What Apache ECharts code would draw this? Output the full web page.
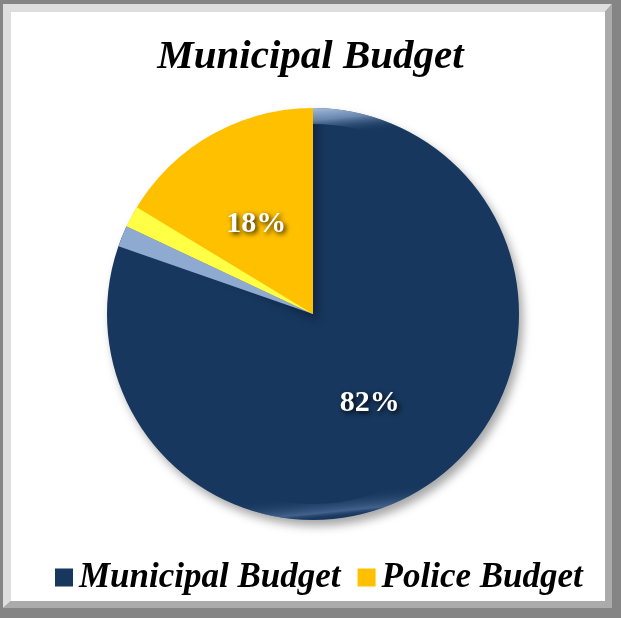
<!DOCTYPE html>
<html><head><meta charset="utf-8">
<script src="https://cdn.jsdelivr.net/npm/echarts@6/dist/echarts.min.js"></script>
<style>html,body{margin:0;padding:0;background:#fff}#c{width:621px;height:618px}</style>
</head><body><div id="c"></div>
<script>
const titleText = 'Municipal Budget';
const categories = ['Municipal Budget', 'Police Budget'];
const values = [82, 18];
const colors = ['#17375E', '#FFC000'];
const bevelColors = ['#8FAAD0', '#FFFF45'];

const chart = echarts.init(document.getElementById('c'));
const total = values.reduce((a, b) => a + b, 0);
const bevelDeg = 6;
const firstDeg = values[0] / total * 360;
const clear = 'rgba(0,0,0,0)';
const bevelData = [
  { value: firstDeg - bevelDeg, itemStyle: { color: clear } },
  { value: bevelDeg, itemStyle: { color: bevelColors[0] } },
  { value: bevelDeg, itemStyle: { color: bevelColors[1] } },
  { value: 360 - firstDeg - bevelDeg, itemStyle: { color: clear } }
];
const rimData = categories.map((n, i) => ({
  name: n, value: values[i],
  itemStyle: {
    color: i === 0 ? new echarts.graphic.LinearGradient(0.4, 0, 0.5, 1, [
      { offset: 0, color: 'rgba(200,220,245,0.95)' },
      { offset: 0.04, color: 'rgba(140,168,208,0.7)' },
      { offset: 0.08, color: 'rgba(23,55,94,0)' },
      { offset: 0.94, color: 'rgba(23,55,94,0)' },
      { offset: 0.985, color: 'rgba(110,140,185,0.5)' },
      { offset: 1, color: 'rgba(23,55,94,0)' }
    ]) : clear
  }
}));
const serif = '"Liberation Serif", "Times New Roman", serif';
chart.setOption({
  animation: false,
  graphic: [
    { type: 'rect', shape: { x: 0, y: 0, width: 621, height: 618 }, style: { fill: '#858585' }, z: -10 },
    { type: 'polygon', shape: { points: [[3,4],[612,4],[605,12],[11,12],[11,601],[3,608]] }, style: { fill: '#dedede' }, z: -9 },
    { type: 'polygon', shape: { points: [[612,4],[612,608],[3,608],[11,601],[605,601],[605,12]] }, style: { fill: '#ababab' }, z: -9 },
    { type: 'rect', shape: { x: 11, y: 12, width: 594, height: 589 }, style: { fill: '#ffffff' }, z: -8 }
  ],
  title: {
    text: titleText, left: 'center', top: 32,
    textStyle: { fontFamily: serif, fontSize: 41, fontWeight: 'bold', fontStyle: 'italic', color: '#000' }
  },
  legend: {
    data: categories, left: 50, top: 555, itemWidth: 18, itemHeight: 18, itemGap: 17, icon: 'rect',
    textStyle: { fontFamily: serif, fontSize: 35, fontWeight: 'bold', fontStyle: 'italic', color: '#000', padding: [0, 0, 0, 1] }
  },
  series: [
    {
      type: 'pie', center: [313, 314], radius: [0, 206], startAngle: 90, clockwise: true,
      data: categories.map((n, i) => ({ name: n, value: values[i], itemStyle: { color: colors[i] } })),
      itemStyle: { shadowBlur: 10, shadowOffsetX: 4, shadowOffsetY: 6, shadowColor: 'rgba(0,0,0,0.35)' },
      label: {
        show: true, position: 'inside', formatter: p => Math.round(p.percent) + '%',
        fontFamily: serif, fontSize: 30, fontWeight: 'bold', color: '#fff',
        textShadowColor: 'rgba(0,0,0,0.9)', textShadowBlur: 5, textShadowOffsetX: 2, textShadowOffsetY: 2
      },
      labelLine: { show: false }, emphasis: { disabled: true }, z: 2
    },
    {
      type: 'pie', center: [313, 314], radius: [0, 206], startAngle: 90, clockwise: true, silent: true,
      data: bevelData, label: { show: false }, labelLine: { show: false }, z: 3,
      legendHoverLink: false, emphasis: { disabled: true }
    },
    {
      type: 'pie', center: [313, 314], radius: [190, 206], startAngle: 90, clockwise: true, silent: true,
      data: rimData, label: { show: false }, labelLine: { show: false }, z: 3,
      legendHoverLink: false, emphasis: { disabled: true }
    }
  ]
});
</script></body></html>
